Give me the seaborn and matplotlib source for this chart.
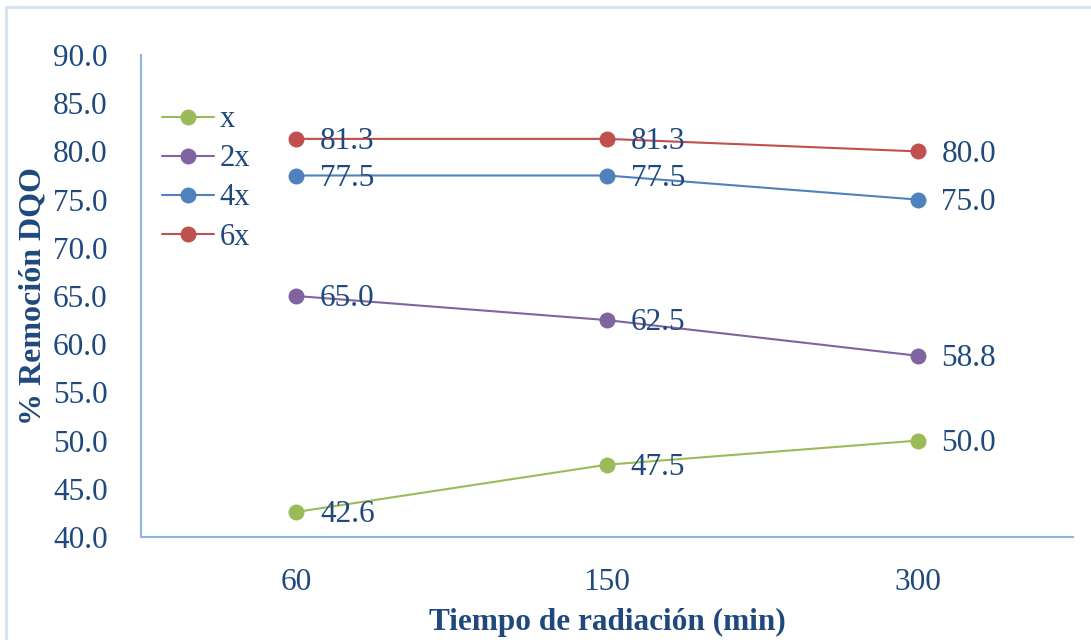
import matplotlib
matplotlib.use("Agg")
import matplotlib.pyplot as plt
import matplotlib.patches as mpatches
import seaborn as sns
import pandas as pd

categories = ["60", "150", "300"]
series_names = ["x", "2x", "4x", "6x"]
vals_x = [42.6, 47.5, 50.0]
vals_2x = [65.0, 62.5, 58.8]
vals_4x = [77.5, 77.5, 75.0]
vals_6x = [81.3, 81.3, 80.0]
colors = ["#9BBB59", "#8064A2", "#4F81BD", "#C0504D"]
y_ticks = [40, 45, 50, 55, 60, 65, 70, 75, 80, 85, 90]

sns.set_theme(style="white")
plt.rcParams["font.family"] = ["Liberation Serif", "DejaVu Serif"]

text_color = "#1F497D"
spine_color = "#8EB4E3"

rows = []
for name, vals in zip(series_names, [vals_x, vals_2x, vals_4x, vals_6x]):
    for i, (c, v) in enumerate(zip(categories, vals)):
        rows.append({"pos": i, "cat": c, "val": v, "serie": name})
df = pd.DataFrame(rows)

fig = plt.figure(figsize=(10.91, 6.40), dpi=100)
ax = fig.add_axes([141/1091, (640-537)/640, (1073-141)/1091, (537-55)/640])

sns.lineplot(data=df, x="pos", y="val", hue="serie", hue_order=series_names,
             palette=dict(zip(series_names, colors)), marker="o", markersize=11.5,
             markeredgewidth=0, linewidth=1.5, ax=ax)

for name, color in zip(series_names, colors):
    sub = df[df.serie == name]
    for _, r in sub.iterrows():
        ax.annotate(f"{r.val:.1f}", (r.pos, r.val), xytext=(17, -2),
                    textcoords="offset points", ha="left", va="center",
                    fontsize=22.5, color=text_color)

ax.set_xlim(-0.5, 2.5)
ax.set_ylim(40, 90)
ax.set_xticks(range(len(categories)))
ax.set_xticklabels(categories)
ax.set_yticks(y_ticks)
ax.set_yticklabels([f"{t:.1f}" for t in y_ticks])
ax.tick_params(axis="both", length=0, labelsize=22.5, colors=text_color)
ax.tick_params(axis="y", pad=24)
ax.tick_params(axis="x", pad=22)

for s in ["top", "right"]:
    ax.spines[s].set_visible(False)
for s in ["left", "bottom"]:
    ax.spines[s].set_color(spine_color)
    ax.spines[s].set_linewidth(1.5)

ax.set_xlabel("Tiempo de radiación (min)", fontsize=22.5, fontweight="bold",
              color=text_color, labelpad=8)
ax.set_ylabel("% Remoción DQO", fontsize=23, fontweight="bold",
              color=text_color, labelpad=4)

leg = ax.legend(loc="upper left", bbox_to_anchor=(0.0, 0.94), frameon=False,
                fontsize=22, handlelength=1.7, handletextpad=0.18,
                labelspacing=0.33, borderaxespad=0.3)
for t in leg.get_texts():
    t.set_color(text_color)

border = mpatches.Rectangle((6/1091, -0.1), 1.2, (640-7)/640 + 0.1,
                            transform=fig.transFigure, fill=False,
                            edgecolor="#D6E2F2", linewidth=2, clip_on=False)
fig.patches.append(border)

fig.savefig("out.png", dpi=100)
